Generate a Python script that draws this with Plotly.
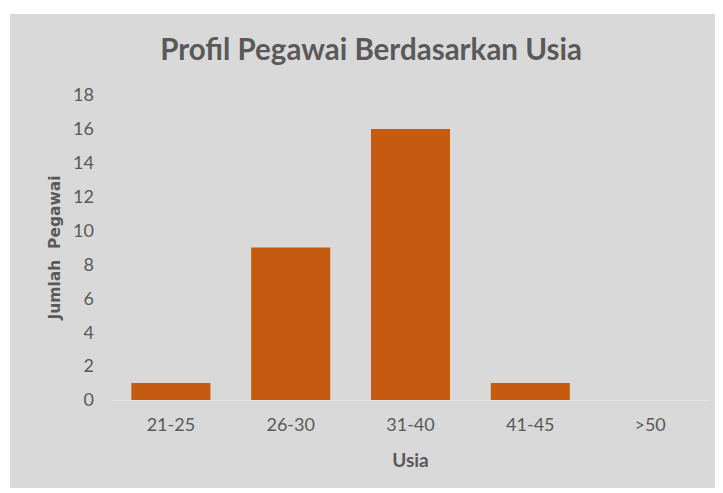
import plotly.graph_objects as go

usia = ["21-25", "26-30", "31-40", "41-45", ">50"]
jumlah = [1, 9, 16, 1, 0]
y_ticks = [0, 2, 4, 6, 8, 10, 12, 14, 16, 18]

BG = "#d9d9d9"
TXT = "#595959"
FONT = "Lato"

fig = go.Figure()

fig.add_trace(go.Bar(
    x=usia, y=jumlah,
    marker=dict(color="#c55a11", line=dict(width=0)),
    width=0.66,
))

# gray chart area (leaves white strips at top/left/bottom like the original)
fig.add_shape(type="rect", xref="paper", yref="paper",
              x0=-101 / 599, x1=1.1, y0=-88 / 305, y1=1 + 81 / 305,
              fillcolor=BG, line=dict(width=0), layer="below")

fig.update_layout(
    width=723, height=493,
    paper_bgcolor="white", plot_bgcolor=BG,
    margin=dict(l=103, r=21, t=87, b=101),
    showlegend=False,
    font=dict(family=FONT, color=TXT, size=18),
    title=dict(text="<b>Profil Pegawai Berdasarkan Usia</b>",
               x=363 / 723, xref="container", xanchor="center",
               y=1 - 42 / 493, yanchor="middle",
               font=dict(size=29.5, color=TXT, family=FONT)),
    xaxis=dict(title=dict(text="<b>Usia</b>", font=dict(size=19, color=TXT), standoff=19),
               showgrid=False, zeroline=False, showline=False,
               ticks="", ticklabelstandoff=12, tickfont=dict(size=18, color=TXT)),
    yaxis=dict(title=dict(text="<b>Jumlah  Pegawai</b>",
                          font=dict(size=15.5, color=TXT, family="DejaVu Sans"), standoff=8),
               range=[0, 18], tickvals=y_ticks, showgrid=False,
               zeroline=True, zerolinecolor="#e2e2e2", zerolinewidth=1,
               showline=False, ticks="", ticklabelstandoff=16,
               tickfont=dict(size=18, color=TXT)),
    bargap=0.34,
)

fig.write_html("out.html")
